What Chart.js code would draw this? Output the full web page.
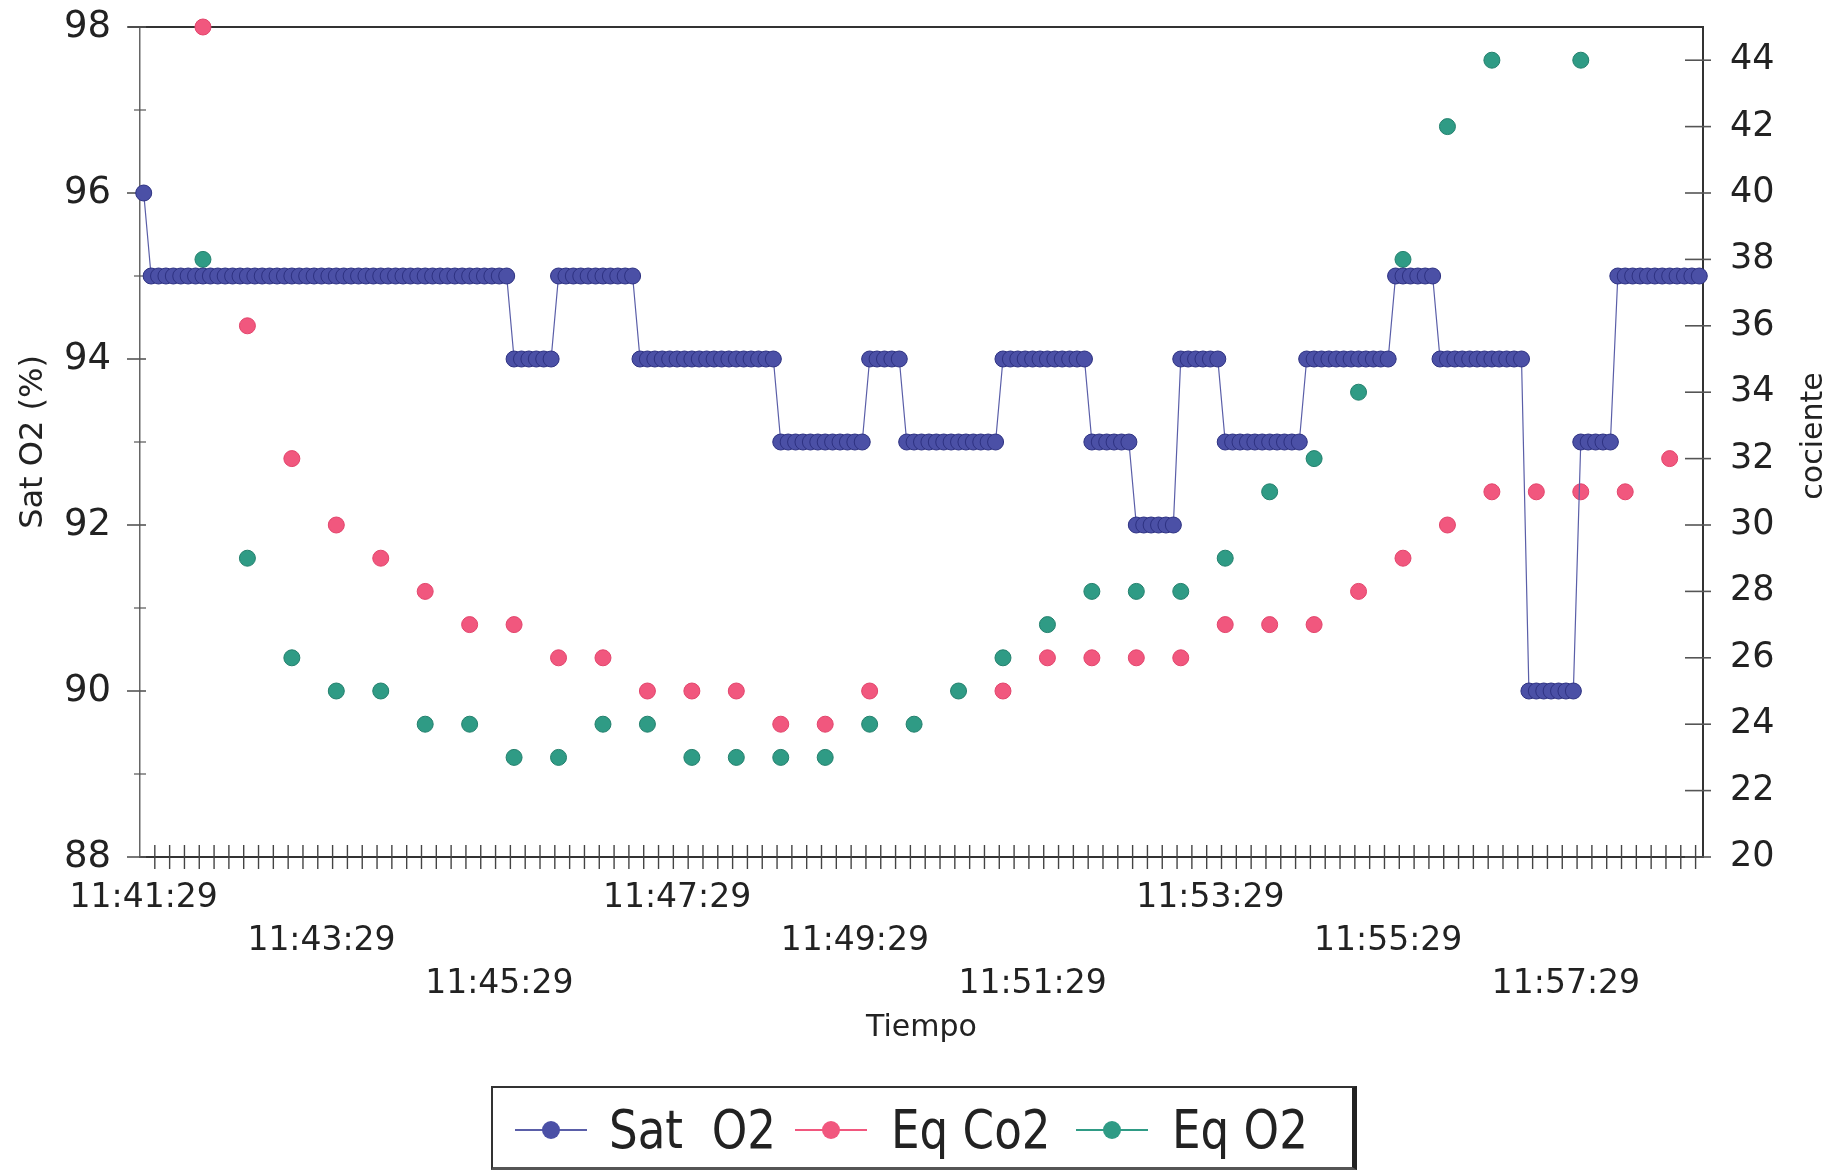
<!DOCTYPE html>
<html>
<head>
<meta charset="utf-8">
<script src="https://cdn.jsdelivr.net/npm/chart.js@4.4.1/dist/chart.umd.min.js"></script>
<style>
html,body{margin:0;padding:0;background:#fff;}
#wrap{position:relative;width:1835px;height:1175px;overflow:hidden;background:#fff;}
#c{position:absolute;left:0;top:0;}
#legend{position:absolute;left:491px;top:1086px;width:866px;height:84px;box-sizing:border-box;
  border:2px solid #333;border-right:5px solid #222;border-bottom:3px solid #555;background:#fff;
  font-family:"Liberation Sans Narrow","DejaVu Sans Condensed","Liberation Sans",sans-serif;font-size:54px;color:#222;}
.ic{position:absolute;top:32px;width:72px;height:20px;}
.ic .ln{position:absolute;left:0;right:0;top:9px;height:2px;}
.ic .dot{position:absolute;left:27px;top:1px;width:18px;height:18px;border-radius:50%;}
.tx{position:absolute;top:0;line-height:84px;white-space:pre;transform:scaleX(0.93);transform-origin:left center;}
</style>
</head>
<body>
<div id="wrap">
<canvas id="c" width="1835" height="1175"></canvas>
<div id="legend"></div>
</div>
<script>
// ---- data ----
const timeLabels = [
'11:41:29','11:41:34','11:41:39','11:41:44','11:41:49','11:41:54','11:41:59',
'11:42:04','11:42:09','11:42:14','11:42:19','11:42:24','11:42:29','11:42:34','11:42:39','11:42:44','11:42:49','11:42:54','11:42:59',
'11:43:04','11:43:09','11:43:14','11:43:19','11:43:24','11:43:29','11:43:34','11:43:39','11:43:44','11:43:49','11:43:54','11:43:59',
'11:44:04','11:44:09','11:44:14','11:44:19','11:44:24','11:44:29','11:44:34','11:44:39','11:44:44','11:44:49','11:44:54','11:44:59',
'11:45:04','11:45:09','11:45:14','11:45:19','11:45:24','11:45:29','11:45:34','11:45:39','11:45:44','11:45:49','11:45:54','11:45:59',
'11:46:04','11:46:09','11:46:14','11:46:19','11:46:24','11:46:29','11:46:34','11:46:39','11:46:44','11:46:49','11:46:54','11:46:59',
'11:47:04','11:47:09','11:47:14','11:47:19','11:47:24','11:47:29','11:47:34','11:47:39','11:47:44','11:47:49','11:47:54','11:47:59',
'11:48:04','11:48:09','11:48:14','11:48:19','11:48:24','11:48:29','11:48:34','11:48:39','11:48:44','11:48:49','11:48:54','11:48:59',
'11:49:04','11:49:09','11:49:14','11:49:19','11:49:24','11:49:29','11:49:34','11:49:39','11:49:44','11:49:49','11:49:54','11:49:59',
'11:50:04','11:50:09','11:50:14','11:50:19','11:50:24','11:50:29','11:50:34','11:50:39','11:50:44','11:50:49','11:50:54','11:50:59',
'11:51:04','11:51:09','11:51:14','11:51:19','11:51:24','11:51:29','11:51:34','11:51:39','11:51:44','11:51:49','11:51:54','11:51:59',
'11:52:04','11:52:09','11:52:14','11:52:19','11:52:24','11:52:29','11:52:34','11:52:39','11:52:44','11:52:49','11:52:54','11:52:59',
'11:53:04','11:53:09','11:53:14','11:53:19','11:53:24','11:53:29','11:53:34','11:53:39','11:53:44','11:53:49','11:53:54','11:53:59',
'11:54:04','11:54:09','11:54:14','11:54:19','11:54:24','11:54:29','11:54:34','11:54:39','11:54:44','11:54:49','11:54:54','11:54:59',
'11:55:04','11:55:09','11:55:14','11:55:19','11:55:24','11:55:29','11:55:34','11:55:39','11:55:44','11:55:49','11:55:54','11:55:59',
'11:56:04','11:56:09','11:56:14','11:56:19','11:56:24','11:56:29','11:56:34','11:56:39','11:56:44','11:56:49','11:56:54','11:56:59',
'11:57:04','11:57:09','11:57:14','11:57:19','11:57:24','11:57:29','11:57:34','11:57:39','11:57:44','11:57:49','11:57:54','11:57:59',
'11:58:04','11:58:09','11:58:14','11:58:19','11:58:24','11:58:29','11:58:34','11:58:39','11:58:44','11:58:49','11:58:54','11:58:59'
];

const satO2 = [
96,95,95,95,95,95,95,
95,95,95,95,95,95,95,95,95,95,95,95,
95,95,95,95,95,95,95,95,95,95,95,95,
95,95,95,95,95,95,95,95,95,95,95,95,
95,95,95,95,95,95,95,94,94,94,94,94,
94,95,95,95,95,95,95,95,95,95,95,95,
94,94,94,94,94,94,94,94,94,94,94,94,
94,94,94,94,94,94,94,93,93,93,93,93,
93,93,93,93,93,93,93,94,94,94,94,94,
93,93,93,93,93,93,93,93,93,93,93,93,
93,94,94,94,94,94,94,94,94,94,94,94,
94,93,93,93,93,93,93,92,92,92,92,92,
92,94,94,94,94,94,94,93,93,93,93,93,
93,93,93,93,93,93,94,94,94,94,94,94,
94,94,94,94,94,94,95,95,95,95,95,95,
94,94,94,94,94,94,94,94,94,94,94,94,
90,90,90,90,90,90,90,93,93,93,93,93,
95,95,95,95,95,95,95,95,95,95,95,95
];

const eqTimes = [
'11:42:09','11:42:39','11:43:09','11:43:39','11:44:09','11:44:39','11:45:09','11:45:39',
'11:46:09','11:46:39','11:47:09','11:47:39','11:48:09','11:48:39','11:49:09','11:49:39',
'11:50:09','11:50:39','11:51:09','11:51:39','11:52:09','11:52:39','11:53:09','11:53:39',
'11:54:09','11:54:39','11:55:09','11:55:39','11:56:09','11:56:39','11:57:09','11:57:39',
'11:58:09','11:58:39'
];
const eqCO2 = [45,36,32,30,29,28,27,27,26,26,25,25,25,24,24,25,null,null,25,26,26,26,26,27,27,27,28,29,30,31,31,31,31,32];
const eqO2  = [38,29,26,25,25,24,24,23,23,24,24,23,23,23,23,24,24,25,26,27,28,28,28,29,31,32,34,38,42,44,null,44,null,null];

const xTickLabels = ['11:41:29','11:43:29','11:45:29','11:47:29','11:49:29','11:51:29','11:53:29','11:55:29','11:57:29'];
const seriesNames = ['Sat  O2','Eq Co2','Eq O2'];
const xTitle = 'Tiempo';
const yLeftTitle = 'Sat O2 (%)';
const yRightTitle = 'cociente';

// ---- styles ----
const colors = {
  sat: {fill:'#4b50a6', border:'#2e3282', line:'#5a5ea8'},
  co2: {fill:'#f1577e', border:'#e2456c'},
  o2:  {fill:'#2f9b85', border:'#23806d'}
};
const FONT = '"DejaVu Sans", "Liberation Sans", sans-serif';

const decor = {
  id: 'decor',
  beforeDatasetsDraw(chart) {
    const {ctx, chartArea: a, scales} = chart;
    ctx.save();
    ctx.strokeStyle = '#333'; ctx.lineWidth = 2;
    ctx.beginPath(); ctx.moveTo(a.left - 12, a.top); ctx.lineTo(a.right, a.top); ctx.stroke();
    const yl = scales.y;
    ctx.strokeStyle = '#555';
    yl.ticks.forEach(t => {
      const py = yl.getPixelForValue(t.value);
      const major = t.value % 2 === 0;
      ctx.lineWidth = major ? 1.6 : 1.2;
      ctx.beginPath(); ctx.moveTo(a.left - (major ? 13 : 6), py); ctx.lineTo(a.left + 6, py); ctx.stroke();
    });
    const yr = scales.y2;
    yr.ticks.forEach(t => {
      if (t.value > 44) return;
      const py = yr.getPixelForValue(t.value);
      const major = t.value % 2 === 0;
      ctx.lineWidth = major ? 1.6 : 1.2;
      ctx.beginPath(); ctx.moveTo(a.right - (major ? 18 : 8), py); ctx.lineTo(a.right + (major ? 8 : 5), py); ctx.stroke();
    });
    const xs = scales.x;
    const cw = xs.getPixelForValue(1) - xs.getPixelForValue(0);
    ctx.strokeStyle = '#444'; ctx.lineWidth = 1.4;
    for (let b = 2; b < timeLabels.length; b += 2) {
      const px = xs.getPixelForValue(b) - cw / 2;
      ctx.beginPath(); ctx.moveTo(px, a.bottom - 12); ctx.lineTo(px, a.bottom + 12); ctx.stroke();
    }
    ctx.restore();
  },
  afterDraw(chart) {
    const {ctx, chartArea: a} = chart;
    ctx.save();
    ctx.fillStyle = '#222';
    ctx.font = '30px ' + FONT;
    ctx.textAlign = 'center'; ctx.textBaseline = 'middle';
    ctx.translate(1814, (a.top + a.bottom) / 2 - 6);
    ctx.rotate(-Math.PI / 2);
    ctx.fillText(yRightTitle, 0, 0);
    ctx.restore();
  }
};

const hiddenGrid = (len) => ({display: true, drawOnChartArea: false, drawTicks: true, tickLength: len, color: 'rgba(0,0,0,0)', tickColor: 'rgba(0,0,0,0)'});

const ctx = document.getElementById('c').getContext('2d');
new Chart(ctx, {
  type: 'line',
  data: {
    labels: timeLabels,
    datasets: [
      {
        label: seriesNames[0], data: satO2, yAxisID: 'y',
        borderColor: colors.sat.line, borderWidth: 1.2,
        pointRadius: 8, pointBackgroundColor: colors.sat.fill, pointBorderColor: colors.sat.border, pointBorderWidth: 1,
        tension: 0
      },
      {
        label: seriesNames[1], data: eqTimes.map((t, i) => ({x: t, y: eqCO2[i]})), yAxisID: 'y2',
        showLine: false, clip: false,
        pointRadius: 8, pointBackgroundColor: colors.co2.fill, pointBorderColor: colors.co2.border, pointBorderWidth: 1,
        borderColor: colors.co2.fill
      },
      {
        label: seriesNames[2], data: eqTimes.map((t, i) => ({x: t, y: eqO2[i]})), yAxisID: 'y2',
        showLine: false, clip: false,
        pointRadius: 8, pointBackgroundColor: colors.o2.fill, pointBorderColor: colors.o2.border, pointBorderWidth: 1,
        borderColor: colors.o2.fill
      }
    ]
  },
  options: {
    responsive: false,
    animation: false,
    devicePixelRatio: 1,
    layout: {padding: {top: 27, left: 0, right: 0, bottom: 100}},
    plugins: {legend: {display: false}, tooltip: {enabled: false}},
    events: [],
    scales: {
      x: {
        type: 'category', offset: true,
        grid: {display: false, drawTicks: false},
        border: {display: true, color: '#333', width: 2},
        ticks: {
          autoSkip: false, maxRotation: 0, minRotation: 0, padding: 20, color: '#222',
          font: {family: FONT, size: 33, lineHeight: 43 / 33},
          callback: function(value, index) {
            const lab = this.getLabelForValue(value);
            const j = xTickLabels.indexOf(lab);
            if (j < 0) return '';
            const lines = [];
            for (let r = 0; r < j % 3; r++) lines.push('');
            lines.push(lab);
            return lines;
          }
        },
        title: {display: true, text: xTitle, color: '#222', font: {family: FONT, size: 30}, padding: {top: 0, bottom: 29}},
        afterFit: s => { s.height = 218; }
      },
      y: {
        position: 'left', min: 88, max: 98,
        grid: hiddenGrid(29),
        border: {display: true, color: '#666', width: 1.5},
        ticks: {stepSize: 1, padding: 0, color: '#222', font: {family: FONT, size: 37},
          callback: v => (v % 2 === 0 ? String(v) : '')},
        title: {display: true, text: yLeftTitle, color: '#222', font: {family: FONT, size: 32}, padding: {top: 14, bottom: 0}},
        afterFit: s => { s.width = 140; }
      },
      y2: {
        position: 'right', min: 20, max: 45,
        grid: hiddenGrid(27),
        border: {display: true, color: '#333', width: 2},
        ticks: {stepSize: 1, padding: 0, color: '#222', font: {family: FONT, size: 35},
          callback: v => (v % 2 === 0 && v <= 44 ? String(v) : '')},
        afterFit: s => { s.width = 132; }
      }
    }
  },
  plugins: [decor]
});

// HTML legend
const legend = document.getElementById('legend');
const legendItems = [
  {name: seriesNames[0], c: colors.sat, icon: 22, text: 116},
  {name: seriesNames[1], c: colors.co2, icon: 302, text: 398},
  {name: seriesNames[2], c: colors.o2, icon: 583, text: 679}
];
legendItems.forEach(it => {
  const ic = document.createElement('div');
  ic.className = 'ic'; ic.style.left = it.icon + 'px';
  ic.innerHTML = '<div class="ln" style="background:' + (it.c.line || it.c.fill) + '"></div>' +
    '<div class="dot" style="background:' + it.c.fill + '"></div>';
  legend.appendChild(ic);
  const tx = document.createElement('div');
  tx.className = 'tx'; tx.style.left = it.text + 'px';
  tx.textContent = it.name;
  legend.appendChild(tx);
});
</script>
</body>
</html>
